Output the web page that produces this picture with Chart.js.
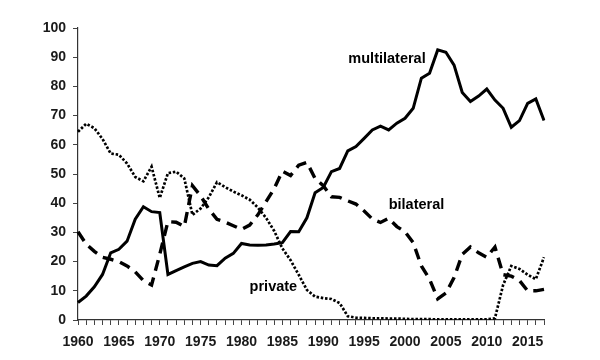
<!DOCTYPE html>
<html>
<head>
<meta charset="utf-8">
<script src="https://cdn.jsdelivr.net/npm/chart.js@4/dist/chart.umd.min.js"></script>
<style>
  html, body { margin: 0; padding: 0; background: #fff; }
  #wrap { width: 600px; height: 360px; }
</style>
</head>
<body>
<div id="wrap"><canvas id="c" width="600" height="360"></canvas></div>
<script>
const years = [1960,1961,1962,1963,1964,1965,1966,1967,1968,1969,
  1970,1971,1972,1973,1974,1975,1976,1977,1978,1979,
  1980,1981,1982,1983,1984,1985,1986,1987,1988,1989,
  1990,1991,1992,1993,1994,1995,1996,1997,1998,1999,
  2000,2001,2002,2003,2004,2005,2006,2007,2008,2009,
  2010,2011,2012,2013,2014,2015,2016,2017];

const multilateral = [6,8.2,11.4,15.6,23,24.2,27,34.5,38.8,37.1,
  36.8,15.6,16.9,18.2,19.4,20,18.8,18.6,21.2,22.8,
  26.2,25.7,25.6,25.7,26,26.5,30.3,30.2,35,43.6,
  45.4,50.8,51.9,57.9,59.4,62.2,65.1,66.4,65.1,67.4,
  69.1,72.5,82.8,84.5,92.5,91.7,87.3,77.9,74.8,76.7,
  79.1,75.3,72.5,66,68.3,74.2,75.7,68.3];

const bilateral = [30.2,26,23.5,21.5,20.8,20,18.5,16.5,13.5,12,
  22.5,33.7,33.5,32,46,42.5,38,34.5,33.5,32.3,
  31,32.5,36,40.5,45,51,49.5,53,54,48.5,
  46,42.2,42,40.8,39.7,37.3,34.6,33.4,34.8,32,
  30.2,26.5,18.5,14,7.2,9.2,14.5,22.5,25,23,
  21.5,25,15.5,15,13.5,10,10,10.5];

const privateFlows = [64.5,67.2,65.7,62,57,56.6,53.6,49,47.5,52.5,
  41.8,50.3,50.8,48.5,36,38.2,42,47.2,45.5,44,
  42.7,41.2,38.5,35,30.5,24.5,20.5,15.5,10.3,8,
  7.5,7.2,5.8,1.3,0.8,0.7,0.6,0.6,0.5,0.5,
  0.4,0.3,0.3,0.3,0.2,0.2,0.2,0.2,0.2,0.2,
  0.2,0.6,12,18.5,17.5,15.5,14,21.5];

const seriesNames = ["multilateral", "bilateral", "private"];
const yTicks = [0,10,20,30,40,50,60,70,80,90,100];

const FONT = '"Liberation Sans", Arial, sans-serif';

const labelPlugin = {
  id: 'seriesLabels',
  afterDatasetsDraw(chart) {
    const ctx = chart.ctx;
    const xs = chart.scales.x, ys = chart.scales.y;
    // label anchors in data coordinates: [category index (year-1960), value]
    const anchors = [[37.8, 88], [41.4, 38], [23.9, 10]];
    ctx.save();
    ctx.fillStyle = '#000';
    ctx.font = 'bold 14.5px ' + FONT;
    ctx.textAlign = 'center';
    ctx.textBaseline = 'alphabetic';
    seriesNames.forEach((name, i) => {
      const a = anchors[i];
      const px = xs.getPixelForValue(a[0]);
      const py = ys.getPixelForValue(a[1]);
      ctx.fillText(name, px, py);
    });
    ctx.restore();
  }
};

new Chart(document.getElementById('c'), {
  type: 'line',
  data: {
    labels: years,
    datasets: [
      { label: seriesNames[0], data: multilateral, borderColor: '#000', borderWidth: 3,
        pointRadius: 0, tension: 0, fill: false },
      { label: seriesNames[1], data: bilateral, borderColor: '#000', borderWidth: 3.4,
        borderDash: [11, 7], pointRadius: 0, tension: 0, fill: false },
      { label: seriesNames[2], data: privateFlows, borderColor: '#000', borderWidth: 2.7,
        borderDash: [2.5, 1.8], pointRadius: 0, tension: 0, fill: false }
    ]
  },
  options: {
    responsive: false,
    animation: false,
    layout: { padding: { left: 0, top: 28, right: 56, bottom: 0 } },
    plugins: { legend: { display: false }, tooltip: { enabled: false } },
    scales: {
      x: {
        type: 'category',
        offset: false,
        grid: { display: true, drawOnChartArea: false, drawTicks: true, tickLength: 5,
                color: '#444', offset: false },
        border: { display: true, color: '#333', width: 1.2 },
        ticks: {
          autoSkip: false, maxRotation: 0, minRotation: 0, padding: 9,
          color: '#1a1a1a', font: { family: FONT, size: 14, weight: 'bold' },
          callback: function(v, i) { const yr = years[i]; return yr % 5 === 0 ? String(yr) : ''; }
        },
        afterFit(scale) { scale.height = 40; }
      },
      y: {
        min: 0, max: 100,
        afterBuildTicks(scale) { scale.ticks = yTicks.map(v => ({ value: v })); },
        grid: { display: true, drawOnChartArea: false, drawTicks: true, tickLength: 5, color: '#444' },
        border: { display: true, color: '#333', width: 1.2 },
        ticks: { padding: 7, color: '#1a1a1a', font: { family: FONT, size: 14, weight: 'bold' } },
        afterFit(scale) { scale.width = 78; }
      }
    }
  },
  plugins: [labelPlugin]
});
</script>
</body>
</html>
